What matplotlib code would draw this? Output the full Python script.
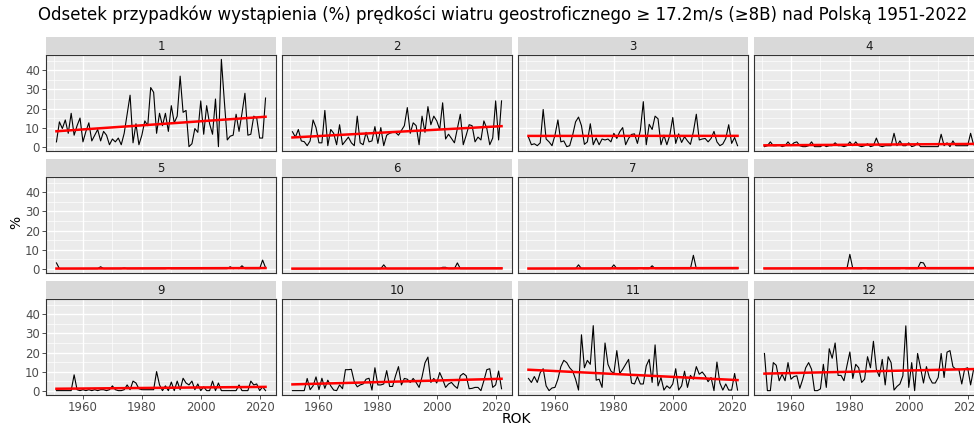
import numpy as np
import matplotlib
matplotlib.use("Agg")
import matplotlib.pyplot as plt

years = list(range(1951, 2023))

# monthly share of days (%) with geostrophic wind >= 17.2 m/s, 1951-2022
m1 = [2.5, 13, 9.5, 14, 7, 17.5, 6, 11, 15, 2.5,
      8, 12.5, 3, 6, 9, 3, 8, 6, 1, 4,
      2.5, 4.5, 1, 7, 17, 27, 2, 12, 1, 6,
      13.5, 11, 31, 28.5, 7, 17.5, 11, 17.5, 8, 21.5,
      12.5, 16, 37, 18, 19, 0, 1.5, 9.5, 7.5, 24,
      6.5, 21.5, 12, 6.5, 25, 0, 45.8, 24, 3.5, 5.5,
      6, 17, 8, 17.5, 28, 6, 6.5, 16, 15, 4.5,
      4.5, 25.5]
m2 = [7.8, 5, 9, 3, 2.6, 0.5, 3, 14, 10, 2,
      2, 19, 0.5, 9, 7, 1, 11.5, 1, 3, 5,
      2, 0.5, 16, 2, 1, 7.5, 2.5, 3, 10.5, 1.7,
      10, 0.5, 6, 7, 7.5, 7.5, 6, 8.5, 11, 20.5,
      7, 12.5, 11, 1, 16, 7.5, 21, 11.5, 16, 13.5,
      9, 23, 4, 6.5, 4.3, 2, 9.5, 17, 1, 6,
      11.5, 11, 2.5, 5, 3.5, 13.5, 9.5, 1, 4.5, 24,
      3.5, 24]
m3 = [5, 1, 1.5, 0.5, 2, 19.5, 4, 2.5, 0.5, 6,
      14, 2.5, 3, 0, 0.5, 6, 13, 15.5, 11, 1.2,
      2.5, 12, 1, 4.5, 1, 4, 3.5, 4, 2.5, 7,
      4.3, 7.8, 10, 1, 4.3, 6.4, 6.7, 1.7, 8.6, 23.6,
      1, 11.7, 9, 16, 14.6, 1, 6, 1, 6, 15.3,
      1.7, 6.7, 2.2, 5.2, 3, 1.2, 7.8, 17, 3.5, 4,
      4.3, 2.5, 4.3, 8, 2.5, 0.5, 1.4, 4.3, 11.5, 1.7,
      4.8, 0.5]
m4 = [0, 0.5, 2.5, 0.5, 0.5, 1, 0, 0.5, 2.5, 0.5,
      2, 2.5, 0.5, 0, 0, 0.5, 2.5, 0, 0, 0,
      1, 0, 0.5, 0.5, 2, 0.5, 0.5, 0, 0.5, 2.5,
      0.5, 2.5, 0.5, 0, 0.5, 1.5, 0, 0.5, 4.5, 0.5,
      0, 0.5, 0.5, 0.5, 7, 0.5, 3, 0.5, 0.5, 2,
      0, 0.5, 2, 0, 0, 0, 0, 0, 0, 0,
      6.5, 0.5, 2, 0, 3, 0.5, 0.5, 0.5, 0.5, 0.5,
      7, 1]
m5 = [3, 0, 0, 0, 0, 0, 0, 0, 0, 0,
      0, 0, 0, 0, 0, 1, 0, 0, 0, 0,
      0, 0, 0, 0.3, 0, 0, 0, 0, 0, 0,
      0, 0, 0, 0, 0, 0, 0, 0, 0.2, 0,
      0, 0, 0, 0, 0, 0, 0, 0, 0, 0,
      0, 0, 0, 0, 0, 0, 0, 0, 0, 1,
      0, 0.3, 0, 1.5, 0, 0, 0, 0, 0, 0,
      4.5, 0.5]
m6 = [0, 0, 0, 0, 0, 0, 0, 0, 0, 0,
      0, 0, 0, 0, 0, 0, 0, 0, 0, 0,
      0, 0, 0, 0, 0, 0, 0, 0, 0, 0,
      0, 2, 0, 0, 0, 0, 0, 0, 0, 0,
      0, 0, 0, 0, 0, 0, 0, 0, 0, 0,
      0, 0.7, 0.7, 0, 0, 0, 3, 0, 0, 0,
      0, 0, 0, 0, 0, 0, 0, 0, 0, 0,
      0, 0]
m7 = [0, 0, 0, 0, 0, 0, 0, 0, 0, 0,
      0, 0, 0, 0, 0, 0, 0, 2, 0, 0,
      0, 0, 0, 0, 0, 0, 0, 0, 0, 2,
      0, 0, 0, 0, 0, 0, 0, 0, 0.3, 0,
      0, 0, 1.5, 0, 0, 0, 0, 0, 0, 0,
      0, 0, 0, 0, 0, 0, 7, 0, 0, 0,
      0, 0, 0, 0, 0, 0, 0, 0, 0, 0,
      0, 0]
m8 = [0, 0, 0, 0, 0, 0, 0, 0, 0, 0,
      0, 0, 0, 0, 0, 0, 0, 0, 0, 0,
      0, 0, 0, 0, 0, 0, 0, 0, 0, 7.5,
      0, 0, 0, 0, 0.3, 0, 0, 0, 0, 0,
      0, 0, 0, 0, 0, 0, 0, 0.3, 0, 0,
      0, 0, 0, 3.3, 3.0, 0, 0, 0, 0, 0,
      0, 0, 0, 0, 0, 0, 0, 0, 0, 0,
      0, 0]
m9 = [0, 0, 0, 0, 0, 0, 8.3, 0.5, 0, 0.5,
      0, 0.5, 0, 0.5, 0, 0.5, 0.5, 0, 0.5, 2.5,
      0.5, 0, 0, 0.5, 3, 0.5, 5, 4, 1, 0.5,
      0.5, 0.5, 0.5, 0.5, 10, 3, 0, 2.5, 0, 4.5,
      0, 5, 0.5, 6.5, 4, 3, 5, 0.5, 3.5, 0,
      2, 0, 0, 5, 0, 4, 0, 0, 0, 0,
      0, 0, 3, 0, 0, 0, 5, 3, 3.5, 0,
      2, 0]
m10 = [0, 0, 0, 0, 0, 6.4, 0.5, 2.5, 7.2, 0.5,
       6.5, 1.2, 5.5, 2.5, 0.3, 0, 3, 1, 11, 11,
       11.2, 4.6, 2, 3, 3.5, 6, 6.5, 0.3, 12, 3,
       3, 3.5, 10.5, 2.2, 2.2, 7.8, 12.6, 3, 6.4, 6,
       4.3, 6.4, 4.3, 1.7, 7.2, 14.6, 17.6, 4.3, 6.4, 4,
       9.5, 6, 1.7, 3.5, 4.3, 2.5, 1.2, 7.8, 9, 7.8,
       1, 1.2, 1.7, 1.7, 0, 5.2, 11, 11.5, 1.7, 3,
       10.3, 1]
m11 = [6.4, 4.3, 7.4, 4.3, 9.5, 11.5, 2.5, 0, 1.4, 1.7,
       6, 12.6, 15.9, 14.7, 12, 10.3, 6, 0.3, 29.3, 12,
       15.9, 13.8, 34.1, 5.5, 6, 1.7, 25, 13.8, 10.3, 9,
       21, 9, 11.2, 13.8, 16.4, 4, 3.5, 7.4, 3.5, 3.5,
       13, 16.4, 4.3, 24, 2.5, 6.9, 0.3, 2.5, 1.2, 3.5,
       11.5, 0.3, 2.5, 10.2, 1.7, 8, 6, 12.6, 8.6, 9.8,
       7.8, 4.7, 6.9, 0, 15, 4, 0.3, 3.5, 0.3, 0.3,
       9, 0.3]
m12 = [19.5, 0, 0, 14.7, 13.3, 5.2, 8.6, 5.2, 14.7, 6,
       7.4, 7.8, 1.2, 6, 12, 14.7, 11.2, 0, 0, 0.9,
       13.8, 1.7, 22, 17, 25, 8, 8, 5.2, 13, 20.3,
       6.4, 13.8, 12, 4.3, 6, 17.8, 12, 25.9, 11.2, 7.4,
       16.4, 3, 17.8, 14.7, 0.3, 2.2, 3.5, 7.8, 34, 1.7,
       14.7, 0, 19.5, 12, 4, 12.6, 6.9, 4, 4, 6.9,
       19.5, 6.9, 20.2, 21, 12.6, 11.2, 11.2, 3.5, 11.5, 12,
       3, 11]

months = [m1, m2, m3, m4, m5, m6, m7, m8, m9, m10, m11, m12]

W, H = 974, 425
fig = plt.figure(figsize=(W / 100, H / 100), dpi=100)
fig.patch.set_facecolor("white")


def box(left, top, width, height):
    # pixel box (origin top-left) -> figure fraction rect
    return [left / W, 1 - (top + height) / H, width / W, height / H]


col_left = [46, 282, 518, 754]
row_top = [55, 177, 299]
pw, ph, sh = 230, 96, 18

ymax = max(max(m) for m in months)
ylim = (-0.05 * ymax, 1.05 * ymax)
xlim = (1951 - 0.05 * 71, 2022 + 0.05 * 71)

for k, vals in enumerate(months):
    r, c = divmod(k, 4)
    ax = fig.add_axes(box(col_left[c], row_top[r], pw, ph))
    ax.set_facecolor("#EBEBEB")
    ax.set_xlim(*xlim)
    ax.set_ylim(*ylim)
    ax.set_xticks([1960, 1980, 2000, 2020])
    ax.set_xticks([1950, 1970, 1990, 2010], minor=True)
    ax.set_yticks([0, 10, 20, 30, 40])
    ax.set_yticks([5, 15, 25, 35, 45], minor=True)
    ax.grid(which="major", color="white", lw=1.0)
    ax.grid(which="minor", color="white", lw=0.5)
    ax.set_axisbelow(True)
    ax.tick_params(which="minor", length=0)
    ax.tick_params(which="major", length=3, width=0.6, color="#333333",
                   labelsize=8.5, labelcolor="#4D4D4D", pad=1.5)
    if c != 0:
        ax.tick_params(axis="y", length=0, labelleft=False)
    if r != 2:
        ax.tick_params(axis="x", length=0, labelbottom=False)
    for s in ax.spines.values():
        s.set_color("#333333")
        s.set_linewidth(0.8)

    ax.plot(years, vals, color="black", lw=0.8)
    slope, icpt = np.polyfit(years, vals, 1)
    ends = np.array([years[0], years[-1]])
    ax.plot(ends, slope * ends + icpt, color="red", lw=1.8)

    strip = fig.add_axes(box(col_left[c], row_top[r] - sh, pw, sh))
    strip.set_facecolor("#D9D9D9")
    strip.set_xticks([])
    strip.set_yticks([])
    for s in strip.spines.values():
        s.set_visible(False)
    strip.text(0.5, 0.5, str(k + 1), ha="center", va="center",
               fontsize=8.5, color="#1A1A1A", transform=strip.transAxes)

fig.text(38 / W, 1 - 15 / H,
         "Odsetek przypadków wystąpienia (%) prędkości wiatru geostroficznego "
         "≥ 17.2m/s (≥8B) nad Polską 1951-2022",
         ha="left", va="center", fontsize=12, color="black")
fig.text(16 / W, 1 - 222 / H, "%", rotation=90, ha="center", va="center",
         fontsize=10, color="black")
fig.text(516 / W, 1 - 419 / H, "ROK", ha="center", va="center",
         fontsize=10, color="black")

fig.savefig("out.png", dpi=100)
